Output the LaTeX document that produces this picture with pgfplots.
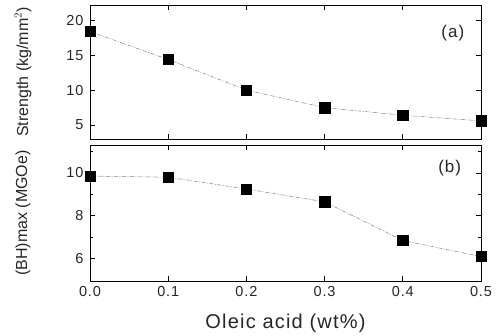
\documentclass[border=0pt]{standalone}
\usepackage{fontspec}
\setmainfont{Liberation Sans}
\newfontfamily\lblfont[LetterSpace=6]{Liberation Sans}
\usepackage{pgfplots}
\pgfplotsset{compat=1.18}
\begin{document}
\begin{tikzpicture}[x=1pt,y=1pt]
\pgfplotsset{
  every axis/.append style={
    scale only axis,
    /pgf/number format/assume math mode=true,
    tick label style={font=\lblfont\fontsize{14.5}{14.5}\selectfont, text=black!85},
    yticklabel style={xshift=-3pt},
    xticklabel style={yshift=-2pt},
    axis line style={line width=0.8pt},
    tick style={line width=0.7pt, black},
    major tick length=5pt, minor tick length=3pt,
    xmin=0, xmax=0.5,
    xtick={0,0.1,0.2,0.3,0.4,0.5},
    x tick label style={/pgf/number format/.cd, fixed, fixed zerofill, precision=1},
    tick align=inside,
    clip=false,
  },
  myline/.style={line width=0.5pt, gray, dash pattern=on 4pt off 1.5pt on 1pt off 1.5pt,
    mark=square*, mark size=5.2pt, mark options={solid, fill=black, draw=black}},
}
\begin{axis}[
  at={(90pt,196pt)}, anchor=south west,
  width=391pt, height=134pt,
  ymin=3, ymax=22.2,
  ytick={5,10,15,20},
  xticklabels={},
  ylabel={Strength (kg/mm$^2$)},
  ylabel style={font=\fontsize{16}{16}\selectfont, text=black!85, at={(axis description cs:0,0.5)}, anchor=center, yshift=67pt},
]
\addplot[myline] coordinates {(0,18.4) (0.1,14.4) (0.2,10.0) (0.3,7.5) (0.4,6.4) (0.5,5.6)};
\node[font=\lblfont\fontsize{17}{17}\selectfont, text=black!85] at (axis cs:0.464,18.2) {(a)};
\end{axis}
\begin{axis}[
  at={(90pt,54pt)}, anchor=south west,
  width=391pt, height=136pt,
  ymin=4.96, ymax=11.3,
  ytick={6,8,10},
  minor ytick={7,9,11},
  xlabel={Oleic acid (wt\%)},
  xlabel style={font=\lblfont\fontsize{20}{20}\selectfont, text=black!85, at={(axis description cs:0.5,0)}, anchor=center, yshift=-42pt},
  ylabel={(BH)max (MGOe)},
  ylabel style={font=\fontsize{16}{16}\selectfont, text=black!85, at={(axis description cs:0,0.5)}, anchor=center, yshift=67pt},
]
\addplot[myline] coordinates {(0,9.85) (0.1,9.8) (0.2,9.25) (0.3,8.65) (0.4,6.85) (0.5,6.1)};
\node[font=\lblfont\fontsize{17}{17}\selectfont, text=black!85] at (axis cs:0.46,10.23) {(b)};
\end{axis}
\pgfresetboundingbox
\path (0,0) rectangle (497pt,335pt);
\end{tikzpicture}
\end{document}
